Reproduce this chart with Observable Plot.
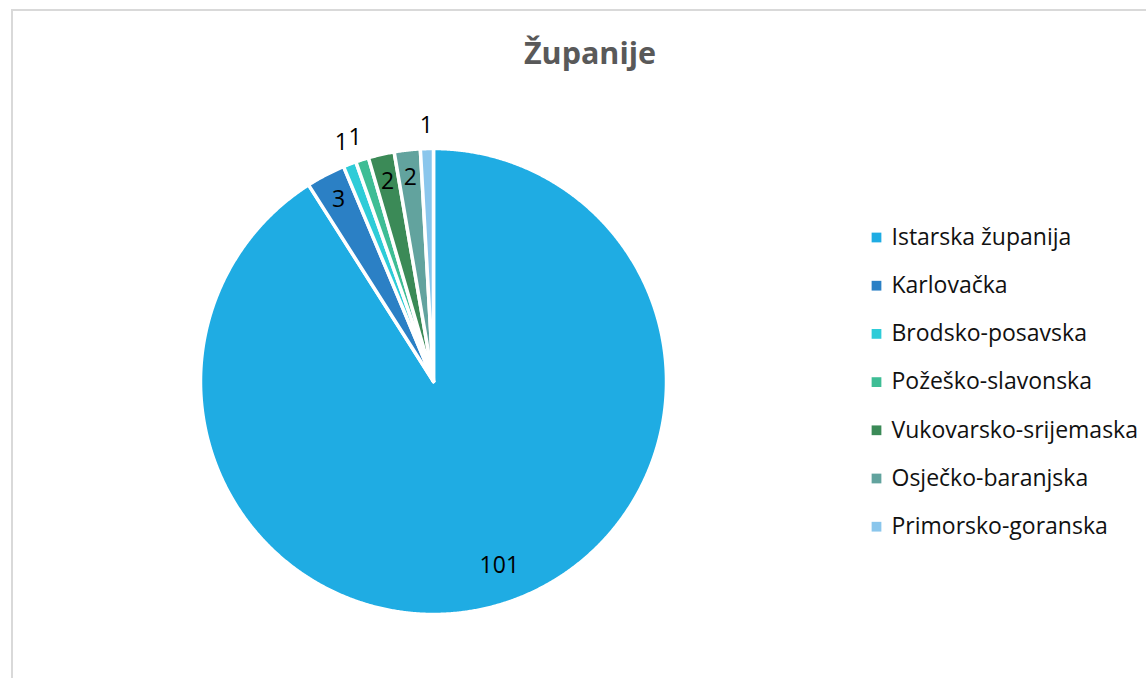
<!DOCTYPE html>
<html>
<head>
<meta charset="utf-8">
<script src="https://cdn.jsdelivr.net/npm/d3@7"></script>
<script src="https://cdn.jsdelivr.net/npm/@observablehq/plot@0.6"></script>
<style>
  html, body { margin: 0; padding: 0; background: #fff; }
  #wrap { position: relative; width: 1146px; height: 678px; overflow: hidden; font-family: "Open Sans", sans-serif; }
  #border { position: absolute; left: 11px; top: 9px; width: 1200px; height: 800px; border-left: 2px solid #d9d9d9; border-top: 2px solid #d9d9d9; box-sizing: border-box; }
  #title { position: absolute; left: 0; width: 1180px; top: 31px; text-align: center; font: bold 30.5px "Open Sans", sans-serif; color: #595959; }
  #chart { position: absolute; left: 0; top: 0; }
</style>
</head>
<body>
<div id="wrap">
  <div id="border"></div>
  <div id="chart"></div>
  <div id="title"></div>
</div>
<script>
const title = "Županije";
const names = ["Istarska županija", "Karlovačka", "Brodsko-posavska", "Požeško-slavonska", "Vukovarsko-srijemaska", "Osječko-baranjska", "Primorsko-goranska"];
const values = [101, 3, 1, 1, 2, 2, 1];
const colors = ["#1FACE3", "#2B80C5", "#2ECCD8", "#3EBD95", "#3B8A57", "#62A39E", "#8AC6EC"];

document.getElementById("title").textContent = title;

const W = 1146, H = 678;
const cx = 433, cy = 381, R = 233;

const arcs = d3.pie().sort(null).value(d => d)(values);

// polygon vertices for slices
const slicePts = [];
arcs.forEach((a, i) => {
  const n = Math.max(2, Math.ceil((a.endAngle - a.startAngle) / 0.005));
  slicePts.push({name: names[i], x: cx, y: cy});
  for (let k = 0; k <= n; k++) {
    const t = a.startAngle + (a.endAngle - a.startAngle) * k / n;
    slicePts.push({name: names[i], x: cx + R * Math.sin(t), y: cy - R * Math.cos(t)});
  }
});

// data labels
const labels = arcs.map((a, i) => {
  const m = (a.startAngle + a.endAngle) / 2;
  const big = values[i] > 50;
  const k = values[i] >= 2 ? (big ? 0.84 : 0.88) : 1.1;
  const mm = big ? m - 0.06 : m;
  return {label: String(values[i]), x: cx + R * k * Math.sin(mm), y: cy - R * k * Math.cos(mm)};
});

// legend rows
const legend = names.map((name, i) => ({name, row: i}));
const legX = 876, legY0 = 237, legDy = 48.2;

const plot = Plot.plot({
  width: W,
  height: H,
  margin: 0,
  x: {domain: [0, W], range: [0, W], axis: null},
  y: {domain: [0, H], range: [0, H], axis: null},
  color: {domain: names, range: colors},
  style: {background: "transparent"},
  marks: [
    Plot.line(slicePts, {x: "x", y: "y", z: "name", fill: "name", stroke: "white", strokeWidth: 3.5, strokeLinejoin: "round", curve: "linear-closed"}),
    Plot.text(labels, {x: "x", y: "y", text: "label", fontSize: 23, fill: "#000", fontFamily: "'Open Sans', sans-serif"}),
    Plot.dot(legend, {x: () => legX, y: d => legY0 + d.row * legDy, symbol: "square", r: 5.5, fill: "name", stroke: null}),
    Plot.text(legend, {x: () => legX + 15, y: d => legY0 + d.row * legDy, text: "name", textAnchor: "start", fontSize: 23, fill: "#111", fontFamily: "'Open Sans', sans-serif"})
  ]
});
document.getElementById("chart").appendChild(plot);
</script>
</body>
</html>
